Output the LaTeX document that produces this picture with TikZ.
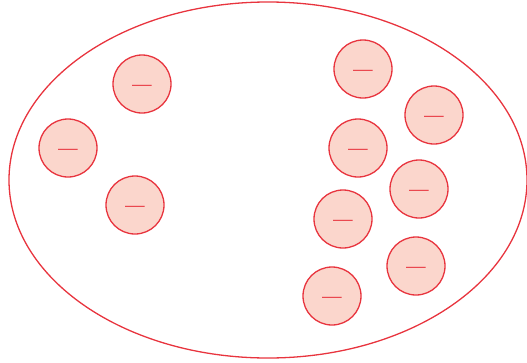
\documentclass[tikz,border=0pt]{standalone}
\definecolor{edge}{RGB}{232,52,62}
\definecolor{pinkfill}{RGB}{251,214,204}
\newcommand{\minusdash}{\scalebox{1}[1.8]{---}}
\begin{document}
\begin{tikzpicture}[x=1pt,y=-1pt,
  charge/.style={circle,draw=edge,fill=pinkfill,line width=1.3pt,minimum size=58pt,inner sep=0pt,
    text=edge,font=\fontsize{17.5}{17.5}\selectfont\bfseries,text height=21pt,text depth=0pt}]
\useasboundingbox (0,0) rectangle (527,362);
\draw[edge,line width=1.3pt] (268,180) ellipse [x radius=259, y radius=178];
\node[charge] (c1) at (142,84) {\minusdash};
\node[charge] (c2) at (68,148) {\minusdash};
\node[charge] (c3) at (135,205) {\minusdash};
\node[charge] (c4) at (363,69) {\minusdash};
\node[charge] (c5) at (434,115) {\minusdash};
\node[charge] (c6) at (358,148) {\minusdash};
\node[charge] (c7) at (419,189) {\minusdash};
\node[charge] (c8) at (343,219) {\minusdash};
\node[charge] (c9) at (416,266) {\minusdash};
\node[charge] (c10) at (332,296) {\minusdash};
\end{tikzpicture}
\end{document}
